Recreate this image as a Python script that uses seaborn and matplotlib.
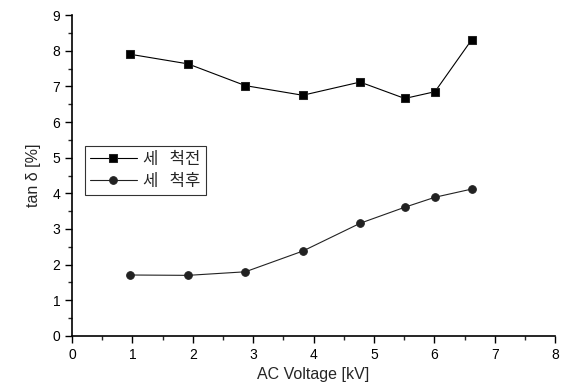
import pandas as pd
import seaborn as sns
import matplotlib.pyplot as plt
from matplotlib.ticker import MultipleLocator

# Data
voltage = [0.96, 1.92, 2.87, 3.82, 4.77, 5.51, 6.01, 6.62]
before_wash = [7.90, 7.63, 7.02, 6.75, 7.12, 6.66, 6.85, 8.31]
after_wash = [1.71, 1.70, 1.80, 2.38, 3.16, 3.61, 3.89, 4.12]
series_names = ["세   척전", "세   척후"]

df = pd.concat([
    pd.DataFrame({"voltage": voltage, "tan": before_wash, "series": series_names[0]}),
    pd.DataFrame({"voltage": voltage, "tan": after_wash, "series": series_names[1]}),
])

sns.set_style("ticks")
plt.rcParams["font.family"] = ["Liberation Sans", "Noto Sans CJK KR", "DejaVu Sans"]

fig = plt.figure(figsize=(5.63, 3.9), dpi=100)
ax = fig.add_axes([0.128, 0.1385, 0.858, 0.823])

sns.lineplot(
    data=df, x="voltage", y="tan",
    hue="series", style="series",
    palette=["black", "#222222"],
    markers={series_names[0]: "s", series_names[1]: "o"},
    dashes=False, markersize=5.5, linewidth=0.8,
    markeredgecolor="#222222", ax=ax,
)

ax.set_xlim(0, 8)
ax.set_ylim(0, 9)
ax.xaxis.set_major_locator(MultipleLocator(1))
ax.xaxis.set_minor_locator(MultipleLocator(0.5))
ax.yaxis.set_major_locator(MultipleLocator(1))
ax.yaxis.set_minor_locator(MultipleLocator(0.5))
ax.tick_params(which="major", length=5, width=1, direction="out", labelsize=10, colors="black")
ax.tick_params(which="minor", length=3, width=1, direction="out")
for side in ["top", "right"]:
    ax.spines[side].set_visible(False)
for side in ["left", "bottom"]:
    ax.spines[side].set_linewidth(1.2)
    ax.spines[side].set_color("black")

ax.set_xlabel("AC Voltage [kV]", fontsize=11.5, labelpad=4)
ax.set_ylabel("tan δ [%]", fontsize=11.5, labelpad=8)

handles, labels = ax.get_legend_handles_labels()
leg = ax.legend(
    handles, labels,
    loc="upper left", bbox_to_anchor=(0.027, 0.592), borderaxespad=0,
    frameon=True, fancybox=False, edgecolor="black",
    handlelength=2.8, handletextpad=0.4, borderpad=0.3,
    labelspacing=0.3,
    prop={"family": ["Noto Sans CJK KR", "DejaVu Sans"], "size": 12},
)
leg.get_frame().set_linewidth(0.8)

plt.savefig("out.png", dpi=100)
plt.close()
